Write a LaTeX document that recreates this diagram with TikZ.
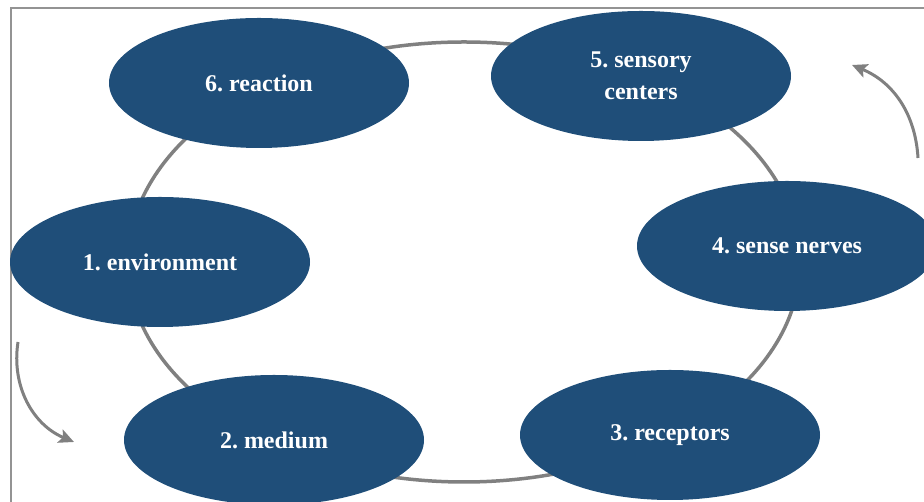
\documentclass[tikz,border=0pt]{standalone}
\usepackage{fontspec}
\setmainfont{Liberation Serif}
\usetikzlibrary{arrows.meta, shapes.geometric}
\definecolor{stageBlue}{RGB}{31,78,121}
\definecolor{ringGray}{RGB}{128,128,128}
\frenchspacing
\tikzset{
  stageNode/.style={ellipse, fill=stageBlue, text=white,
    minimum width=300pt, minimum height=130pt, inner sep=0pt,
    align=center, font=\fontsize{24}{32}\selectfont\bfseries},
  ringLine/.style={line width=3.5pt, draw=ringGray},
  flowArrow/.style={-{Stealth[length=15pt, width=14pt, inset=3pt]},
    line width=3pt, draw=ringGray},
  frameLine/.style={line width=2pt, draw=gray!85}
}

\begin{document}
\begin{tikzpicture}[x=1pt, y=1pt]
  \useasboundingbox (0,0) rectangle (924,502);

  % --- Moldura ---
  \draw[frameLine] (11,0) -- (11,494) -- (924,494);

  % --- Anel ---
  \draw[ringLine] (464,240) ellipse [x radius=336pt, y radius=220pt];

  % --- Etapas ---
  \node[stageNode] (reaction)    at (259,419) {6. reaction};
  \node[stageNode] (sensory)     at (641,426) {5. sensory\\centers};
  \node[stageNode] (nerves)      at (787,256) {4. sense nerves};
  \node[stageNode] (environment) at (160,240) {1. environment};
  \node[stageNode] (medium)      at (274,62)  {2. medium};
  \node[stageNode] (receptors)   at (670,67)  {3. receptors};

  % --- Setas de sentido ---
  \coordinate (topStart) at (918,344);
  \coordinate (topEnd)   at (852,437);
  \draw[flowArrow] (topStart) to[bend right=32] (topEnd);

  \coordinate (lowStart) at (18,160);
  \coordinate (lowEnd)   at (74,60);
  \draw[flowArrow] (lowStart) to[bend right=38] (lowEnd);
\end{tikzpicture}
\end{document}
